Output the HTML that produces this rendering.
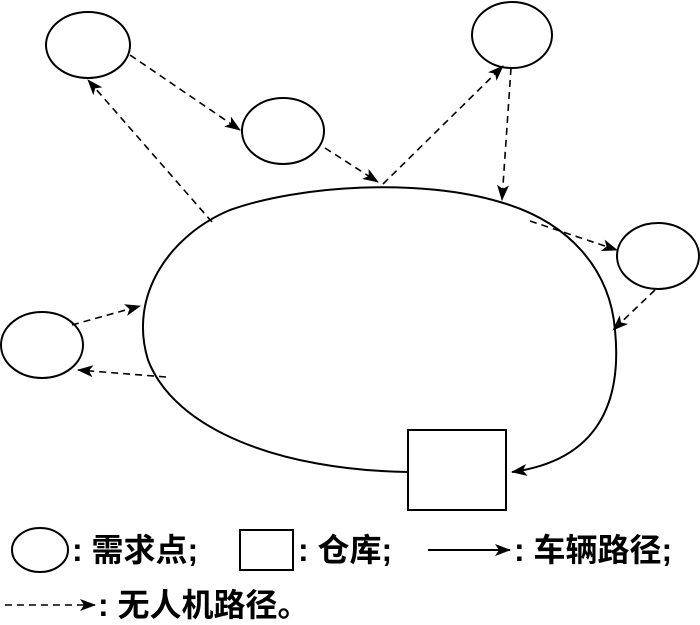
<!DOCTYPE html>
<html><head><meta charset="utf-8"><style>
body{margin:0;background:#fff;}
svg{display:block}
text{font-family:"Liberation Sans","Noto Sans CJK SC",sans-serif;font-size:32px;font-weight:bold;fill:#000}
</style></head><body>
<svg width="700" height="625" viewBox="0 0 700 625" xmlns="http://www.w3.org/2000/svg">
<defs>
<marker id="a" markerWidth="16" markerHeight="12" refX="15" refY="6" orient="auto" markerUnits="userSpaceOnUse">
<path d="M0,0 L16,6 L0,12 L4,6 Z" fill="#000"/></marker>
</defs>
<g fill="none" stroke="#000" stroke-width="2">
<ellipse cx="88" cy="45" rx="42" ry="33"/>
<ellipse cx="283" cy="131" rx="41" ry="33"/>
<ellipse cx="512" cy="35" rx="40" ry="33"/>
<ellipse cx="658" cy="256" rx="41" ry="33"/>
<ellipse cx="42" cy="345" rx="41" ry="33"/>
<rect x="408" y="430" width="98" height="80"/>
<path d="M408,472 C280,470 175,430 148,360 C128,295 170,235 230,210 C300,185 420,178 500,202 C570,222 610,270 615,330 C622,400 600,460 512,472" marker-end="url(#a)"/>
</g>
<g fill="none" stroke="#000" stroke-width="1.6" stroke-dasharray="7,5">
<line x1="130" y1="55" x2="240" y2="130" marker-end="url(#a)"/>
<line x1="325" y1="148" x2="378" y2="182" marker-end="url(#a)"/>
<line x1="383" y1="184" x2="503" y2="66" marker-end="url(#a)"/>
<line x1="511" y1="68" x2="502" y2="200" marker-end="url(#a)"/>
<line x1="530" y1="221" x2="617" y2="250" marker-end="url(#a)"/>
<line x1="655" y1="290" x2="613" y2="330" marker-end="url(#a)"/>
<line x1="212" y1="222" x2="88" y2="80" marker-end="url(#a)"/>
<line x1="72" y1="325" x2="140" y2="306" marker-end="url(#a)"/>
<line x1="166" y1="377" x2="78" y2="370" marker-end="url(#a)"/>
<line x1="5" y1="605" x2="95" y2="605" marker-end="url(#a)"/>
</g>
<g fill="none" stroke="#000" stroke-width="2">
<ellipse cx="40" cy="550" rx="28" ry="22"/>
<rect x="240" y="530" width="53" height="40"/>
<line x1="428" y1="550" x2="510" y2="550" marker-end="url(#a)"/>
</g>
<text x="72" y="561">: 需求点;</text>
<text x="298" y="561">: 仓库;</text>
<text x="514" y="561">: 车辆路径;</text>
<text x="98" y="616">: 无人机路径。</text>
</svg>
</body></html>
